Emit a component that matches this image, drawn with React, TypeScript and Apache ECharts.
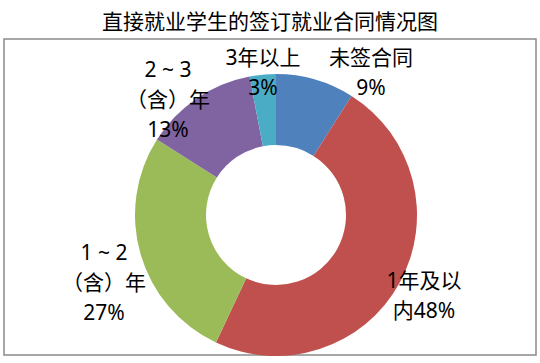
import React, { useEffect, useRef } from "react";
import * as echarts from "echarts";

const titleText = "直接就业学生的签订就业合同情况图";
const categories = ["未签合同", "1年及以内", "1～2（含）年", "2～3（含）年", "3年以上"];
const values = [9, 48, 27, 13, 3];
const labelTexts = ["未签合同\n9%", "1年及以\n内48%", "1 ~ 2\n（含）年\n27%", "2 ~ 3\n（含）年\n13%", "3年以上\n3%"];
const colors = ["#4F81BD", "#C0504D", "#9BBB59", "#8064A2", "#4BACC6"];

const labelPos: [number, number][] = [
  [371, 72],
  [424, 295],
  [104, 282],
  [168, 99],
  [263, 72],
];

export default function App() {
  const ref = useRef<HTMLDivElement>(null);
  useEffect(() => {
    document.body.style.margin = "0";
    const chart = echarts.init(ref.current!, null, { renderer: "svg" });
    chart.setOption({
      animation: false,
      backgroundColor: "#ffffff",
      title: {
        text: titleText,
        left: "center",
        top: 4,
        textStyle: {
          fontSize: 21,
          fontWeight: "normal",
          color: "#000",
          fontFamily: "'Noto Sans CJK SC', sans-serif",
        },
      },
      graphic: [
        {
          type: "rect",
          shape: { x: 4, y: 39, width: 532, height: 316 },
          style: { fill: "none", stroke: "#8a8a8a", lineWidth: 1.5 },
          silent: true,
        },
      ],
      series: [
        {
          type: "pie",
          center: [276, 215],
          radius: [70, 141],
          startAngle: 90,
          clockwise: true,
          avoidLabelOverlap: false,
          itemStyle: { borderWidth: 0 },
          label: {
            show: true,
            position: "outside",
            formatter: (p: any) => labelTexts[p.dataIndex],
            fontSize: 21,
            lineHeight: 30,
            color: "#000",
            align: "center",
            fontFamily: "'Noto Sans', 'Noto Sans CJK SC', sans-serif",
          },
          labelLine: { show: false },
          labelLayout: (params: any) => ({
            x: labelPos[params.dataIndex][0],
            y: labelPos[params.dataIndex][1],
            align: "center",
            verticalAlign: "middle",
          }),
          data: categories.map((c, i) => ({
            name: c,
            value: values[i],
            itemStyle: { color: colors[i] },
          })),
        },
      ],
    });
    return () => chart.dispose();
  }, []);
  return <div ref={ref} style={{ width: 540, height: 363 }} />;
}
